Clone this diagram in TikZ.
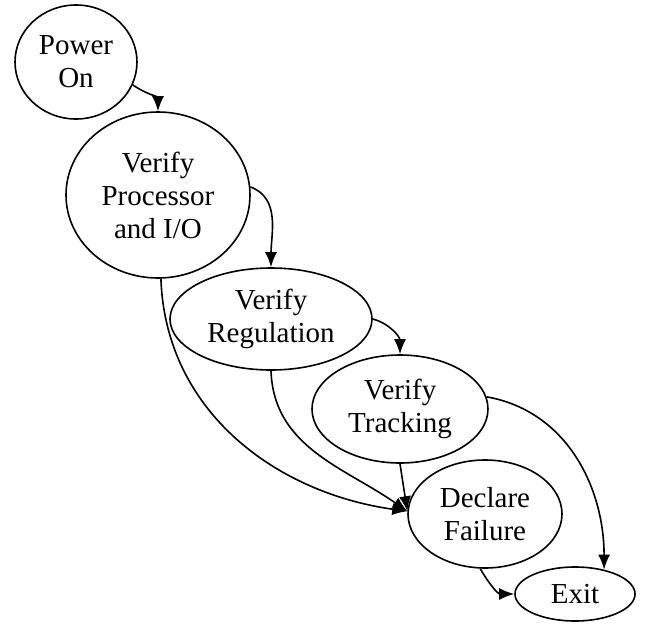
\documentclass[tikz,border=0pt]{standalone}
\usepackage{fontspec}
\setmainfont{Liberation Serif}
\usetikzlibrary{shapes.geometric,arrows.meta}
\begin{document}
\begin{tikzpicture}[x=1pt,y=-1pt,
  state/.style={draw, ellipse, line width=1.6pt, inner sep=0pt, align=center,
    font=\fontsize{29}{33}\selectfont},
  link/.style={draw, line width=1.6pt, -{Latex[length=15pt,width=12pt]}}]
\useasboundingbox (0,0) rectangle (651,624);
\node[state, minimum width=122pt, minimum height=114pt] (po) at (76,62) {Power\\On};
\node[state, minimum width=184pt, minimum height=166pt] (vp) at (158,195) {Verify\\Processor\\and I/O};
\node[state, minimum width=202pt, minimum height=102pt] (vr) at (271,319) {Verify\\Regulation};
\node[state, minimum width=176pt, minimum height=108pt] (vt) at (400,409) {Verify\\Tracking};
\node[state, minimum width=154pt, minimum height=108pt] (df) at (485,514) {Declare\\Failure};
\node[state, minimum width=120pt, minimum height=54pt] (ex) at (575,594) {Exit};

\draw[link] (po.-22) to[out=-35, in=90] (vp.north);
\draw[link] (vp.5) to[out=-20, in=90] (vr.north);
\draw[link] (vr.east) to[out=-15, in=90] (vt.north);
\draw[link] (vt.8) to[out=-10, in=90] (ex.40);
\draw[link] (df.-95) to[out=-60, in=180] (ex.west);
\draw[link] (vp.-88) to[out=-88, in=172] (df.178);
\draw[link] (vr.-90) to[out=-88, in=145] (df.178);
\draw[link] (vt.-90) -- (df.178);
\end{tikzpicture}
\end{document}
